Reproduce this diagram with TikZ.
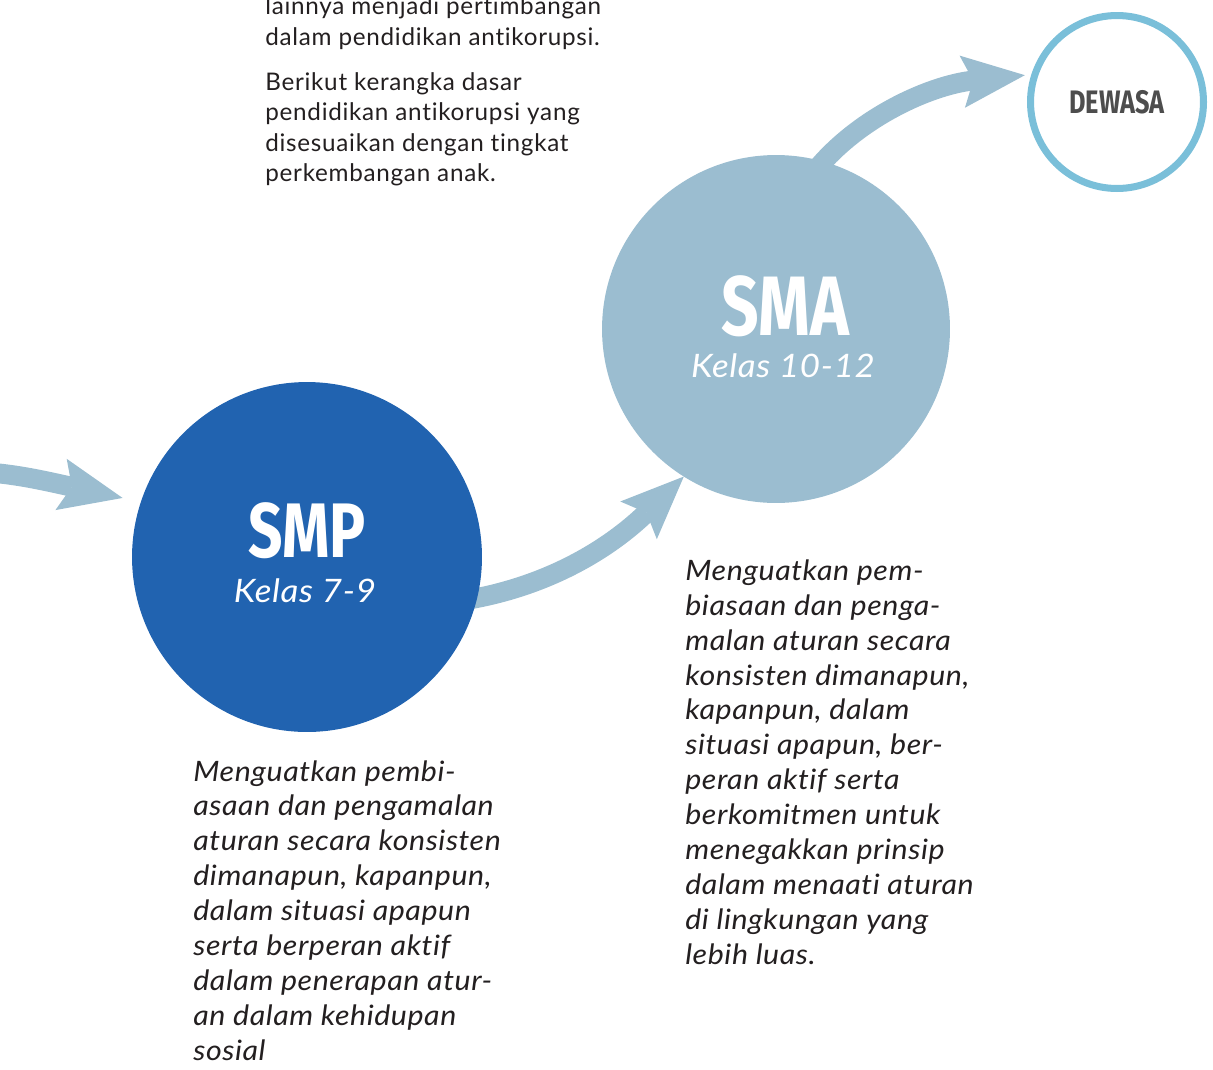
\documentclass[tikz,border=0pt]{standalone}
\usepackage{fontspec}
\setmainfont{Lato}
\newfontfamily\bodyfont[LetterSpace=3, Ligatures=NoCommon]{Lato}
\newfontfamily\notefont[FakeStretch=1.08, LetterSpace=2, Ligatures=NoCommon]{Lato}
\newfontfamily\dinfont[FakeStretch=0.78]{Fira Sans}
\usetikzlibrary{arrows.meta,calc}
\pgfdeclarelayer{background}
\pgfsetlayers{background,main}
\definecolor{smpblue}{HTML}{2163B0}
\definecolor{smablue}{HTML}{9BBDD0}
\definecolor{ringblue}{HTML}{7ABFD9}
\definecolor{bodytext}{HTML}{231F20}
\definecolor{dewasatext}{HTML}{4D4D4D}
\tikzset{
  stage/.style={circle, inner sep=0pt, outer sep=0pt},
  flow/.style={draw=smablue, line width=11.3pt,
    -{Stealth[length=1.26cm, width=1.05cm, inset=0.22cm, line width=0pt]}},
  body/.style={anchor=base west, inner sep=0pt, align=left, text=bodytext,
    font=\bodyfont\fontsize{13.8}{17.3}\selectfont},
  note/.style={anchor=base west, inner sep=0pt, align=left, text=bodytext,
    font=\notefont\itshape\fontsize{16}{19.85}\selectfont},
  title/.style={anchor=base, inner sep=0pt, text=white},
  grade/.style={anchor=base, inner sep=0pt, text=white,
    font=\notefont\itshape\fontsize{18.4}{22}\selectfont},
}
\begin{document}
\begin{tikzpicture}[x=0.02cm, y=-0.02cm]
\useasboundingbox (0,0) rectangle (1213,1069);

% circles
\node[stage, fill=smpblue, minimum size=7cm] (smp) at (307,557) {};
\node[stage, fill=smablue, minimum size=6.96cm] (sma) at (776,329) {};
\node[stage, draw=ringblue, line width=4pt, minimum size=3.46cm] (dewasa) at (1117,102) {};

% circle texts
\node[title, font=\dinfont\bfseries\fontsize{44}{44}\selectfont] (smpT) at (307,557) {SMP};
\node[grade] (smpK) at (305,602) {Kelas 7-9};
\node[title, font=\dinfont\bfseries\fontsize{48}{48}\selectfont] (smaT) at (785,335) {SMA};
\node[grade] (smaK) at (783,377) {Kelas 10-12};
\node[title, text=dewasatext, font=\dinfont\bfseries\fontsize{18.5}{18.5}\selectfont] (dewasaT) at (1117,113) {DEWASA};

% arrows
\coordinate (start) at (-5,473);
\coordinate (tip1) at ($(smp.162.5)+(-18,-5)$);
\begin{pgfonlayer}{background}
\draw[flow] (start) .. controls (25,476) and (50,482) .. (tip1);
\draw[flow] ([xshift=-0.5cm]smp.-15) .. controls (545,590) and (610,548) .. (sma.238);
\draw[flow] ([yshift=-0.5cm]sma.80) .. controls (850,120) and (930,85) .. ($(dewasa.164)+(-9,-3)$);
\end{pgfonlayer}

% texts (anchor = baseline of the last line)
\node[body] (intro1) at (265,45) {lainnya menjadi pertimbangan\\dalam pendidikan antikorupsi.};
\node[body] (intro2) at (265,181.5) {Berikut kerangka dasar\\pendidikan antikorupsi yang\\disesuaikan dengan tingkat\\perkembangan anak.};

\node[note] (smpN) at (193,1060) {Menguatkan pembi-\\asaan dan pengamalan\\aturan secara konsisten\\dimanapun, kapanpun,\\dalam situasi apapun\\serta berperan aktif\\dalam penerapan atur-\\an dalam kehidupan\\sosial};
\node[note] (smaN) at (685,964) {Menguatkan pem-\\biasaan dan penga-\\malan aturan secara\\konsisten dimanapun,\\kapanpun, dalam\\situasi apapun, ber-\\peran aktif serta\\berkomitmen untuk\\menegakkan prinsip\\dalam menaati aturan\\di lingkungan yang\\lebih luas.};
\end{tikzpicture}
\end{document}
